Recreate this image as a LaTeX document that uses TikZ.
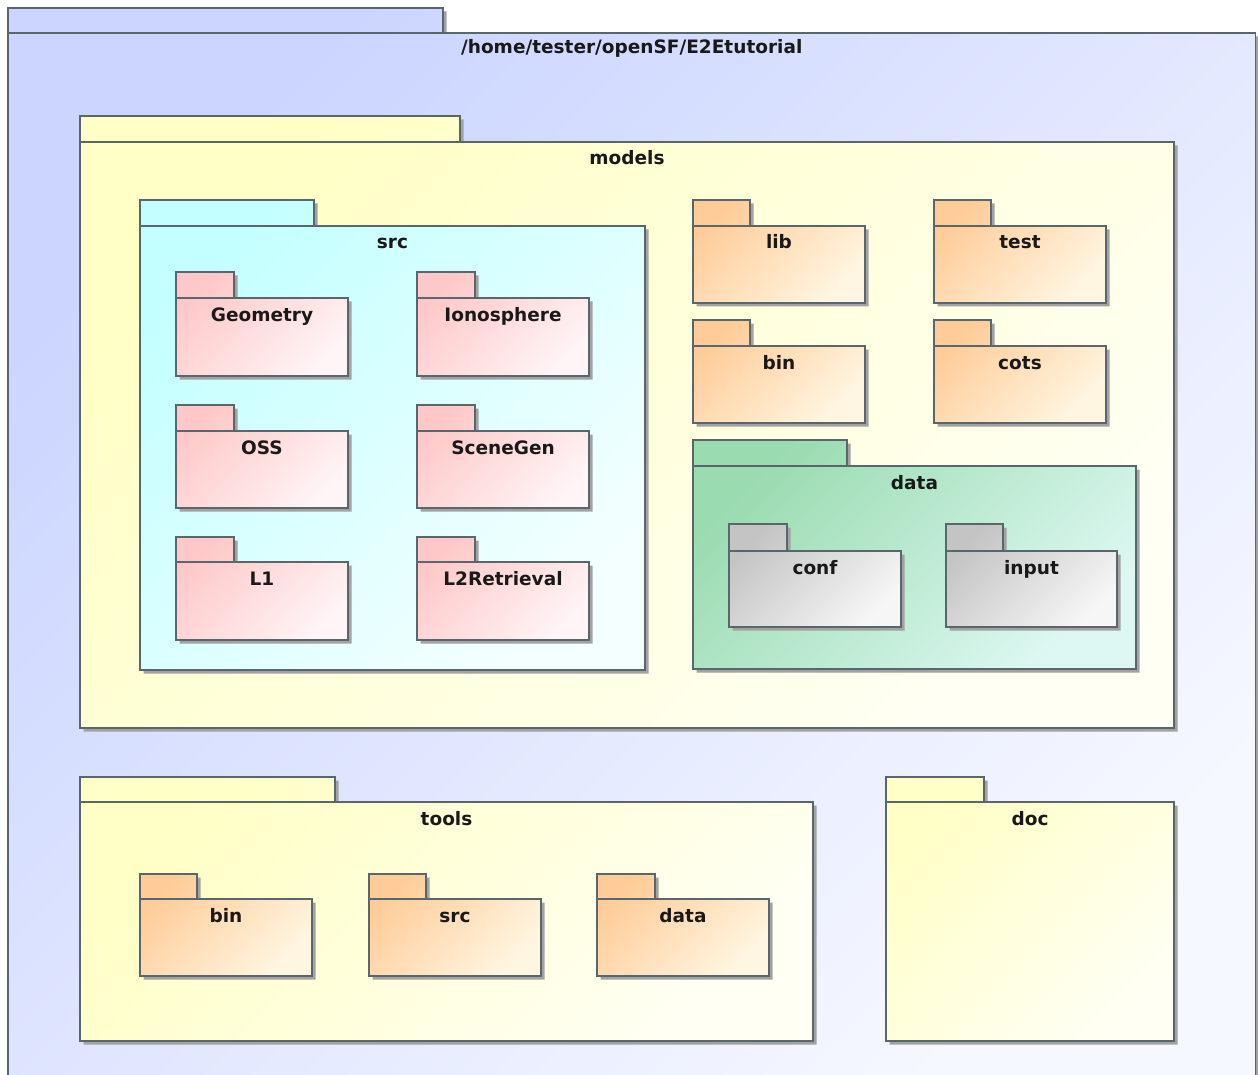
\documentclass[tikz,border=0pt]{standalone}
\usepackage{fontspec}
\setmainfont{DejaVu Sans}
\definecolor{linec}{HTML}{59666B}
\definecolor{shadowc}{HTML}{A2A2A2}
\definecolor{blueA}{HTML}{CBD5FF}
\definecolor{blueB}{HTML}{F6F8FF}
\definecolor{yelA}{HTML}{FFFFC6}
\definecolor{yelB}{HTML}{FFFFF4}
\definecolor{cyanA}{HTML}{C4FFFF}
\definecolor{cyanB}{HTML}{F4FFFF}
\definecolor{pinkA}{HTML}{FFC8C8}
\definecolor{pinkB}{HTML}{FFF4F6}
\definecolor{orA}{HTML}{FFCC99}
\definecolor{orB}{HTML}{FFF6E2}
\definecolor{grnA}{HTML}{9ADBB0}
\definecolor{grnB}{HTML}{DDF8F2}
\definecolor{gryA}{HTML}{C4C4C4}
\definecolor{gryB}{HTML}{F6F6F6}
\tikzset{
  pkgline/.style={draw=linec,line width=1.2pt,line join=miter},
  pkglabel/.style={font=\fontsize{18.5}{22}\selectfont\bfseries,text=black!90,anchor=base,inner sep=0pt},
  bluepkg/.style={top color=blueA,bottom color=blueB,shading angle=45},
  yelpkg/.style={top color=yelA,bottom color=yelB,shading angle=45},
  cyanpkg/.style={top color=cyanA,bottom color=cyanB,shading angle=45},
  pinkpkg/.style={top color=pinkA,bottom color=pinkB,shading angle=45},
  orpkg/.style={top color=orA,bottom color=orB,shading angle=45},
  grnpkg/.style={top color=grnA,bottom color=grnB,shading angle=45},
  grypkg/.style={top color=gryA,bottom color=gryB,shading angle=45},
}
% #1 name, #2 left, #3 tab top, #4 tab right, #5 body top, #6 right, #7 bottom, #8 style, #9 label
\def\pkgoff{23}
\newcommand\umlpkg[9]{%
  \fill[shadowc] ({#2+3.5},{-#3-3.5}) -- ({#4+3.5},{-#3-3.5}) -- ({#4+3.5},{-#5-3.5}) -- ({#6+3.5},{-#5-3.5}) -- ({#6+3.5},{-#7-3.5}) -- ({#2+3.5},{-#7-3.5}) -- cycle;
  \shade[#8] (#2,-#3) -- (#4,-#3) -- (#4,-#5) -- (#6,-#5) -- (#6,-#7) -- (#2,-#7) -- cycle;
  \draw[pkgline] (#2,-#3) -- (#4,-#3) -- (#4,-#5) -- (#6,-#5) -- (#6,-#7) -- (#2,-#7) -- cycle;
  \draw[pkgline] (#2,-#5) -- (#4,-#5);
  \node[pkglabel] (#1) at ({(#2+#6)/2},{-#5-\pkgoff}) {#9};
}
\begin{document}
\begin{tikzpicture}[x=1pt,y=1pt]
\useasboundingbox (0,0) rectangle (1258,-1075);
\clip (0,0) rectangle (1258,-1075);
\fill[white] (0,0) rectangle (1258,-1075);
\def\pkgoff{21}
\umlpkg{root}{8}{8}{443}{33}{1255.5}{1100}{bluepkg}{/home/tester/openSF/E2Etutorial}
\def\pkgoff{23}
% models
\umlpkg{models}{80}{116}{460}{142}{1174}{728}{yelpkg}{models}
\umlpkg{src}{140}{200}{314}{226}{645}{670}{cyanpkg}{src}
\umlpkg{geometry}{176}{272}{234}{298}{348}{376}{pinkpkg}{Geometry}
\umlpkg{ionosphere}{417}{272}{475}{298}{589}{376}{pinkpkg}{Ionosphere}
\umlpkg{oss}{176}{405}{234}{431}{348}{508}{pinkpkg}{OSS}
\umlpkg{scenegen}{417}{405}{475}{431}{589}{508}{pinkpkg}{SceneGen}
\umlpkg{lone}{176}{537}{234}{562}{348}{640}{pinkpkg}{L1}
\umlpkg{ltwo}{417}{537}{475}{562}{589}{640}{pinkpkg}{L2Retrieval}
\umlpkg{lib}{693}{200}{750}{226}{865}{303}{orpkg}{lib}
\umlpkg{test}{934}{200}{991}{226}{1106}{303}{orpkg}{test}
\umlpkg{mbin}{693}{320}{750}{346}{865}{423}{orpkg}{bin}
\umlpkg{cots}{934}{320}{991}{346}{1106}{423}{orpkg}{cots}
\umlpkg{mdata}{693}{440}{847}{466}{1136}{669}{grnpkg}{data}
\umlpkg{conf}{729}{524}{787}{551}{901}{627}{grypkg}{conf}
\umlpkg{input}{946}{524}{1003}{551}{1117}{627}{grypkg}{input}
% tools
\umlpkg{tools}{80}{777}{335}{802}{813}{1041}{yelpkg}{tools}
\umlpkg{tbin}{140}{874}{197}{899}{312}{976}{orpkg}{bin}
\umlpkg{tsrc}{369}{874}{426}{899}{541}{976}{orpkg}{src}
\umlpkg{tdata}{597}{874}{655}{899}{769}{976}{orpkg}{data}
% doc
\umlpkg{doc}{886}{777}{984}{802}{1174}{1041}{yelpkg}{doc}
\end{tikzpicture}
\end{document}
